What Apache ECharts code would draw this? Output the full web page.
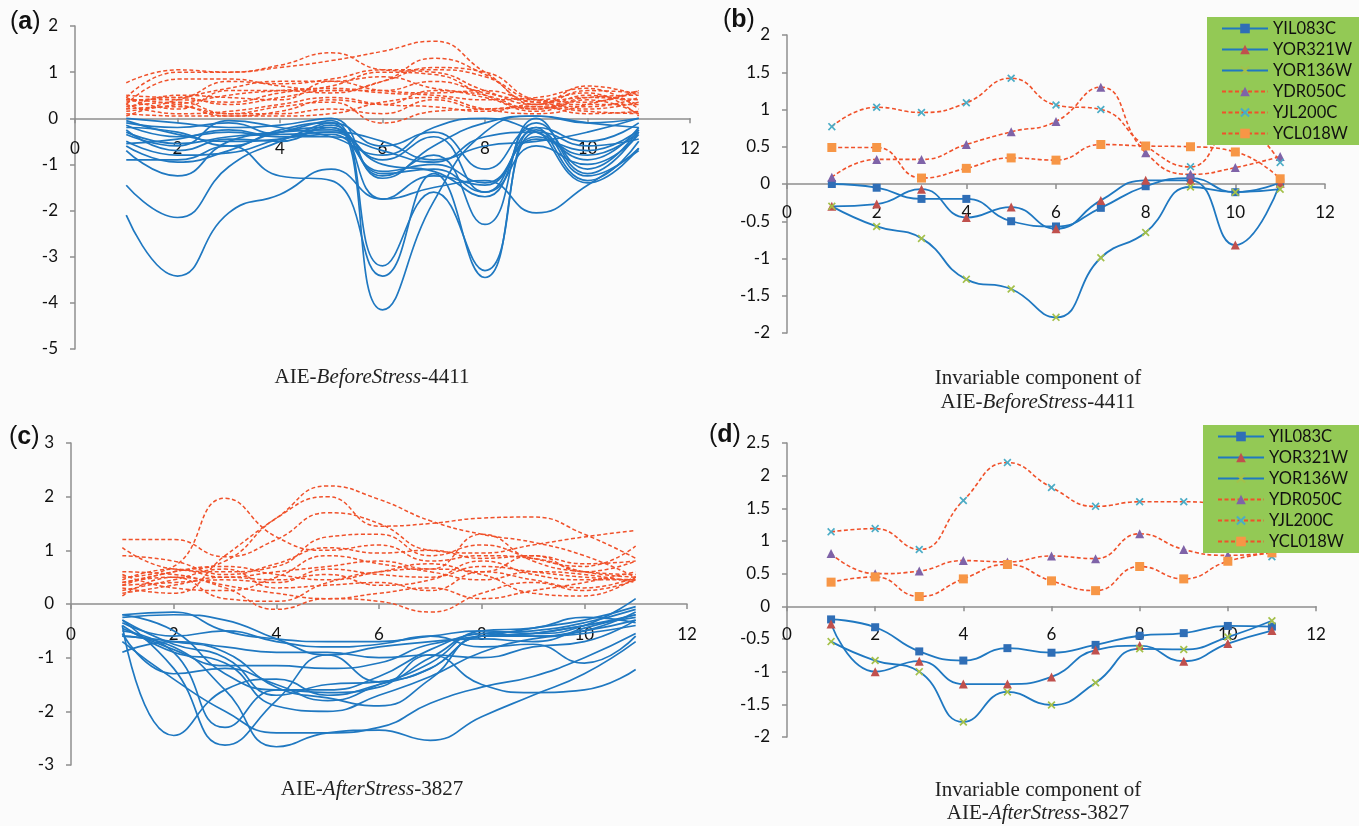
<!DOCTYPE html>
<html><head><meta charset="utf-8">
<script src="https://cdn.jsdelivr.net/npm/echarts@6/dist/echarts.min.js"></script>
<style>html,body{margin:0;padding:0;background:#fbfbfb;}#c{width:1359px;height:826px;}</style>
</head><body><div id="c"></div>
<script>
// ---------- DATA ----------
const xValues = [1, 2, 3, 4, 5, 6, 7, 8, 9, 10, 11];
const xTicks = [0, 2, 4, 6, 8, 10, 12];
const geneNames = ['YIL083C', 'YOR321W', 'YOR136W', 'YDR050C', 'YJL200C', 'YCL018W'];

// (a) AIE-BeforeStress-4411 : negative (solid) and positive (dashed) components
const aBlue = [
  [-2.10, -3.42, -2.05, -1.65, -1.10, -1.75, -1.50, -1.35, -2.05, -1.45, -0.70],
  [-1.45, -2.15, -1.05, -0.50, -0.10, -4.15, -1.80, -0.30, 0.05, -0.10, 0.00],
  [-0.90, -0.90, -0.60, -1.25, -1.35, -3.42, -1.20, -3.45, -0.30, -1.40, -0.65],
  [-0.70, -1.25, -0.50, -0.30, -0.05, -3.20, -1.60, -3.30, -0.20, -1.35, -0.50],
  [-0.60, -0.95, -0.70, -0.30, -0.20, -1.25, -0.80, -2.30, 0.00, -1.20, -0.30],
  [-0.50, -0.80, -0.75, -0.45, -0.30, -1.00, -1.15, -1.70, -0.10, -1.10, -0.25],
  [-0.30, -0.55, -0.40, -0.30, -0.25, -0.90, -0.40, -1.60, -0.40, -0.90, -0.20],
  [-0.20, -0.30, -0.60, -0.25, -0.10, -0.60, -0.30, -1.10, -0.20, -0.50, -0.10],
  [-0.10, -0.20, -0.10, -0.35, -0.30, -0.50, -0.90, -0.60, -0.50, -0.30, 0.00],
  [0.00, -0.10, -0.20, -0.15, 0.00, -1.30, -0.60, -0.10, 0.05, -0.10, -0.20],
  [-0.15, -0.40, -0.30, -0.40, -0.35, -1.15, -1.00, -1.40, -0.45, -0.70, -0.25],
  [-0.35, -0.60, -0.05, -0.20, -0.40, -0.80, -0.20, 0.00, -0.30, -0.80, -0.30],
  [-0.25, -0.70, -0.45, -0.50, -0.15, -1.20, -1.10, -1.60, -0.60, -1.00, -0.35],
  [-0.55, -0.45, -0.25, -0.40, -0.40, -0.70, -0.95, -0.40, -0.30, -0.60, -0.45],
  [-0.05, -0.35, -0.50, -0.45, -0.20, -1.75, -1.25, -1.45, -0.25, -1.25, -0.65]
];
const aOrange = [
  [0.77, 1.05, 1.00, 1.10, 1.25, 1.45, 1.67, 1.00, 0.35, 0.45, 0.40],
  [0.45, 1.00, 1.00, 1.15, 1.42, 1.05, 1.00, 0.60, 0.30, 0.60, 0.55],
  [0.30, 0.85, 0.85, 0.70, 0.60, 0.80, 1.30, 0.95, 0.30, 0.70, 0.50],
  [0.50, 0.45, 0.80, 0.75, 0.85, 1.05, 1.05, 0.90, 0.40, 0.35, 0.60],
  [0.40, 0.40, 0.35, 0.55, 0.70, 1.00, 0.95, 0.50, 0.20, 0.50, 0.30],
  [0.20, 0.25, 0.10, 0.10, 0.20, 0.10, 0.40, 0.20, 0.25, 0.10, 0.15],
  [0.10, 0.05, 0.05, 0.15, 0.40, 0.30, 0.60, 0.45, 0.15, 0.40, 0.10],
  [0.35, 0.45, 0.30, 0.45, 0.60, 0.60, 0.80, 0.55, 0.35, 0.25, 0.45],
  [0.15, 0.30, 0.50, 0.60, 0.65, 0.55, 0.50, 0.40, 0.45, 0.65, 0.20],
  [0.25, 0.35, 0.10, 0.25, 0.35, -0.10, 0.15, 0.20, 0.25, 0.15, 0.10],
  [0.45, 0.20, 0.60, 0.60, 0.55, 0.80, 1.10, 1.00, 0.40, 0.30, 0.30],
  [0.05, 0.40, 0.65, 0.80, 0.80, 0.90, 0.65, 0.50, 0.20, 0.45, 0.50],
  [0.30, 0.10, 0.15, 0.30, 0.45, 0.30, 0.25, 0.15, 0.30, 0.20, 0.35],
  [0.20, 0.50, 0.45, 0.40, 0.80, 0.60, 0.55, 0.60, 0.40, 0.55, 0.05],
  [0.40, 0.30, 0.05, 0.05, 0.10, 0.35, 0.45, 0.20, 0.10, 0.30, 0.60]
];

// (b) Invariable component of AIE-BeforeStress-4411
const bYIL083C = [0.00, -0.05, -0.20, -0.20, -0.50, -0.57, -0.32, -0.03, 0.08, -0.11, 0.02];
const bYOR321W = [-0.30, -0.27, -0.07, -0.45, -0.31, -0.60, -0.22, 0.05, 0.05, -0.82, 0.01];
const bYOR136W = [-0.30, -0.57, -0.73, -1.28, -1.41, -1.79, -0.99, -0.65, -0.04, -0.11, -0.07];
const bYDR050C = [0.09, 0.33, 0.33, 0.53, 0.70, 0.84, 1.30, 0.42, 0.13, 0.22, 0.37];
const bYJL200C = [0.77, 1.03, 0.96, 1.09, 1.42, 1.06, 1.00, 0.51, 0.23, 0.80, 0.29];
const bYCL018W = [0.49, 0.49, 0.08, 0.21, 0.35, 0.32, 0.53, 0.51, 0.50, 0.43, 0.07];

// (c) AIE-AfterStress-3827
const cBlue = [
  [-0.40, -2.45, -1.60, -1.40, -1.70, -1.50, -1.20, -0.60, -0.55, -0.40, -0.20],
  [-0.30, -1.20, -2.63, -1.80, -0.95, -1.45, -1.00, -0.55, -0.60, -0.50, -0.15],
  [-0.50, -0.90, -2.30, -1.60, -1.65, -1.55, -0.95, -1.50, -1.65, -1.60, -1.22],
  [-0.60, -0.80, -1.60, -2.66, -2.40, -2.35, -2.54, -2.10, -1.70, -1.30, -0.70],
  [-0.70, -1.40, -2.00, -2.40, -2.40, -2.30, -1.85, -1.55, -1.35, -1.00, -0.55],
  [-0.20, -0.15, -0.50, -0.65, -0.70, -0.70, -0.60, -0.50, -0.55, -0.40, 0.10],
  [-0.25, -0.20, -0.30, -0.65, -0.95, -0.80, -0.70, -0.60, -0.45, -0.30, -0.05],
  [-0.35, -0.60, -0.50, -0.70, -0.80, -0.75, -0.60, -0.80, -0.75, -1.10, -0.60],
  [-0.90, -0.70, -0.80, -0.90, -0.90, -1.00, -0.95, -1.00, -0.80, -0.70, -0.30],
  [-0.45, -0.85, -1.15, -1.15, -1.20, -1.10, -0.75, -0.65, -0.70, -0.45, -0.20],
  [-0.55, -1.30, -1.20, -1.50, -1.80, -1.50, -1.10, -0.50, -0.45, -0.25, -0.35],
  [-0.30, -0.75, -1.00, -1.70, -1.50, -1.45, -1.20, -0.60, -0.55, -0.40, -0.25],
  [-0.60, -0.70, -0.90, -1.55, -1.75, -1.90, -1.40, -0.60, -0.60, -0.50, -0.30],
  [-0.40, -0.90, -1.10, -1.90, -2.00, -1.70, -1.35, -0.90, -0.65, -0.55, -0.40],
  [-0.20, -0.50, -1.30, -1.60, -1.60, -1.35, -0.85, -0.55, -0.50, -0.35, -0.10]
];
const cOrange = [
  [0.50, 0.70, 1.97, 1.25, 1.00, 1.10, 0.80, 0.90, 0.85, 0.60, 0.50],
  [0.30, 0.20, 0.90, 1.60, 2.20, 1.95, 1.55, 1.30, 1.15, 0.90, 0.50],
  [0.40, 0.60, 0.80, 1.60, 2.00, 1.45, 1.50, 1.60, 1.62, 1.30, 0.85],
  [1.20, 1.20, 0.88, 1.20, 1.70, 1.50, 1.00, 0.95, 1.10, 1.25, 1.37],
  [1.05, 0.65, 0.60, 0.70, 1.25, 1.30, 0.90, 1.10, 0.85, 0.70, 1.08],
  [0.90, 0.80, 0.55, 0.75, 1.05, 0.95, 1.00, 0.85, 0.90, 0.60, 0.80],
  [0.40, 0.50, 0.30, -0.10, 0.10, 0.05, -0.15, 0.20, 0.40, 0.25, 0.45],
  [0.15, 0.50, 0.10, 0.05, 0.40, 0.60, 0.65, 0.55, 0.20, 0.15, 0.50],
  [0.35, 0.40, 0.45, 0.40, 0.65, 0.55, 0.50, 0.70, 0.60, 0.50, 0.45],
  [0.45, 0.65, 0.50, 0.60, 0.70, 0.80, 0.65, 1.30, 0.80, 0.60, 0.55],
  [0.25, 0.45, 0.65, 0.30, 0.35, 0.40, 0.25, 0.60, 0.45, 0.30, 0.50],
  [0.55, 0.30, 0.25, 0.50, 0.90, 0.75, 0.60, 0.45, 0.60, 0.55, 0.40],
  [0.60, 0.55, 0.35, 0.20, 0.10, 0.20, 0.30, 0.10, 0.25, 0.40, 0.60],
  [0.35, 0.60, 0.70, 0.55, 0.45, 0.60, 0.75, 0.60, 0.90, 0.75, 0.80],
  [0.20, 0.35, 0.50, 0.45, 0.55, 0.35, 0.45, 0.80, 0.55, 0.45, 0.45]
];

// (d) Invariable component of AIE-AfterStress-3827
const dYIL083C = [-0.20, -0.32, -0.69, -0.83, -0.64, -0.71, -0.59, -0.45, -0.41, -0.30, -0.31];
const dYOR321W = [-0.27, -1.00, -0.84, -1.19, -1.19, -1.08, -0.67, -0.60, -0.84, -0.57, -0.37];
const dYOR136W = [-0.54, -0.83, -1.00, -1.77, -1.31, -1.51, -1.17, -0.65, -0.66, -0.47, -0.22];
const dYDR050C = [0.81, 0.50, 0.54, 0.70, 0.68, 0.77, 0.73, 1.11, 0.87, 0.78, 0.82];
const dYJL200C = [1.14, 1.19, 0.87, 1.62, 2.20, 1.82, 1.53, 1.60, 1.60, 1.45, 0.76];
const dYCL018W = [0.37, 0.45, 0.15, 0.42, 0.64, 0.39, 0.24, 0.61, 0.42, 0.69, 0.82];

// ---------- STYLE ----------
const BLUE = '#1f78c1';
const ORANGE = '#f0512a';
const DASH = [4, 2.5];
const XSYM = 'path://M0,1.5L1.5,0L5,3.5L8.5,0L10,1.5L6.5,5L10,8.5L8.5,10L5,6.5L1.5,10L0,8.5L3.5,5Z';
const geneStyle = {
  YIL083C: { line: BLUE, dashed: false, symbol: 'rect', sc: '#2f6eb6', size: 8 },
  YOR321W: { line: BLUE, dashed: false, symbol: 'triangle', sc: '#c0504d', size: 9 },
  YOR136W: { line: BLUE, dashed: false, symbol: XSYM, sc: '#a4c04a', size: 8 },
  YDR050C: { line: ORANGE, dashed: true, symbol: 'triangle', sc: '#7f63a8', size: 9 },
  YJL200C: { line: ORANGE, dashed: true, symbol: XSYM, sc: '#4bacc6', size: 8 },
  YCL018W: { line: ORANGE, dashed: true, symbol: 'rect', sc: '#f79646', size: 9 }
};
const LABEL_FONT = 'Lato, "Open Sans", sans-serif';
const SERIF = '"Liberation Serif", "DejaVu Serif", serif';

function pts(vals) { return vals.map((v, i) => [xValues[i], v]); }

const grids = [
  { left: 75, top: 26, width: 615, height: 323 },
  { left: 787, top: 35, width: 538, height: 298 },
  { left: 71, top: 443, width: 616, height: 322 },
  { left: 787, top: 443, width: 529, height: 294 }
];
const yRanges = [[-5, 2, 1], [-2, 2, 0.5], [-3, 3, 1], [-2, 2.5, 0.5]];
const xLabelMargins = [22, 20, 22, 20];

const AXIS_COLOR = '#8f8f8f';
const labelStyle = { color: '#111', fontFamily: LABEL_FONT, fontSize: 17 };

// x axis is drawn through y = 0 (Excel style): shift it up from the grid bottom
const xAxes = grids.map((g, i) => {
  const [mn, mx] = yRanges[i];
  const zeroOffset = -g.height * (0 - mn) / (mx - mn);
  return {
    type: 'value', gridIndex: i, position: 'bottom', offset: zeroOffset,
    min: xTicks[0], max: xTicks[xTicks.length - 1], interval: 2,
    axisLine: { onZero: false, lineStyle: { color: AXIS_COLOR, width: 1.5 } },
    axisTick: { show: true, length: 5, lineStyle: { color: AXIS_COLOR, width: 1.5 } },
    splitLine: { show: false },
    axisLabel: Object.assign({}, labelStyle, { margin: xLabelMargins[i] })
  };
});
const yAxes = grids.map((g, i) => ({
  type: 'value', gridIndex: i, min: yRanges[i][0], max: yRanges[i][1], interval: yRanges[i][2],
  axisLine: { show: true, lineStyle: { color: AXIS_COLOR, width: 1.5 } },
  axisTick: { show: true, length: 5, lineStyle: { color: AXIS_COLOR, width: 1.5 } },
  splitLine: { show: false },
  axisLabel: Object.assign({}, labelStyle, { margin: 17 })
}));

const series = [];
function bundle(list, gi, color, dashed) {
  list.forEach(vals => series.push({
    type: 'line', xAxisIndex: gi, yAxisIndex: gi, data: pts(vals), smooth: 0.5,
    showSymbol: false, silent: true,
    lineStyle: { color: color, width: dashed ? 1.5 : 1.7, type: dashed ? DASH : 'solid' }
  }));
}
bundle(aBlue, 0, BLUE, false);
bundle(aOrange, 0, ORANGE, true);
bundle(cBlue, 2, BLUE, false);
bundle(cOrange, 2, ORANGE, true);

function gene(name, vals, gi) {
  const s = geneStyle[name];
  series.push({
    name: name, type: 'line', xAxisIndex: gi, yAxisIndex: gi, data: pts(vals), smooth: 0.5,
    symbol: s.symbol, symbolSize: s.size, showSymbol: true,
    itemStyle: { color: s.sc, borderWidth: 0 },
    lineStyle: { color: s.line, width: s.dashed ? 1.6 : 1.8, type: s.dashed ? DASH : 'solid' }
  });
}
const bSets = { YIL083C: bYIL083C, YOR321W: bYOR321W, YOR136W: bYOR136W, YDR050C: bYDR050C, YJL200C: bYJL200C, YCL018W: bYCL018W };
const dSets = { YIL083C: dYIL083C, YOR321W: dYOR321W, YOR136W: dYOR136W, YDR050C: dYDR050C, YJL200C: dYJL200C, YCL018W: dYCL018W };
geneNames.forEach(n => gene(n, bSets[n], 1));
geneNames.forEach(n => gene(n, dSets[n], 3));

function legendAt(left, top) {
  return {
    data: geneNames, orient: 'vertical', left: left, top: top,
    backgroundColor: '#93c955', padding: [3, 14, 3, 14], itemGap: 4,
    itemWidth: 46, itemHeight: 12, selectedMode: false,
    textStyle: { color: '#111', fontFamily: LABEL_FONT, fontSize: 16.5 }
  };
}

function panelLabel(ch, x, y) {
  return {
    type: 'text', left: x, top: y,
    style: {
      text: '{p|(}{b|' + ch + '}{p|)}',
      rich: {
        p: { fontFamily: 'Liberation Sans, Arial, sans-serif', fontSize: 25, fill: '#111' },
        b: { fontFamily: 'Liberation Sans, Arial, sans-serif', fontSize: 25, fontWeight: 'bold', fill: '#111' }
      }
    }
  };
}
function caption(parts, cx, cy) {
  return {
    type: 'text', x: cx, y: cy,
    style: {
      text: parts, align: 'center', verticalAlign: 'middle',
      rich: {
        n: { fontFamily: SERIF, fontSize: 21, fill: '#222' },
        i: { fontFamily: SERIF, fontSize: 21, fontStyle: 'italic', fill: '#222' }
      }
    }
  };
}

const chart = echarts.init(document.getElementById('c'), null, { renderer: 'canvas' });
chart.setOption({
  animation: false,
  backgroundColor: '#fbfbfb',
  grid: grids,
  xAxis: xAxes,
  yAxis: yAxes,
  legend: [legendAt(1207, 17), legendAt(1203, 425)],
  series: series,
  graphic: [
    panelLabel('a', 10, 10),
    panelLabel('b', 723, 8),
    panelLabel('c', 9, 425),
    panelLabel('d', 709, 423),
    caption('{n|AIE-}{i|BeforeStress}{n|-4411}', 372, 377),
    caption('{n|Invariable component of}', 1038, 378),
    caption('{n|AIE-}{i|BeforeStress}{n|-4411}', 1038, 402),
    caption('{n|AIE-}{i|AfterStress}{n|-3827}', 372, 789),
    caption('{n|Invariable component of}', 1038, 790),
    caption('{n|AIE-}{i|AfterStress}{n|-3827}', 1038, 813)
  ]
});
</script>
</body></html>
